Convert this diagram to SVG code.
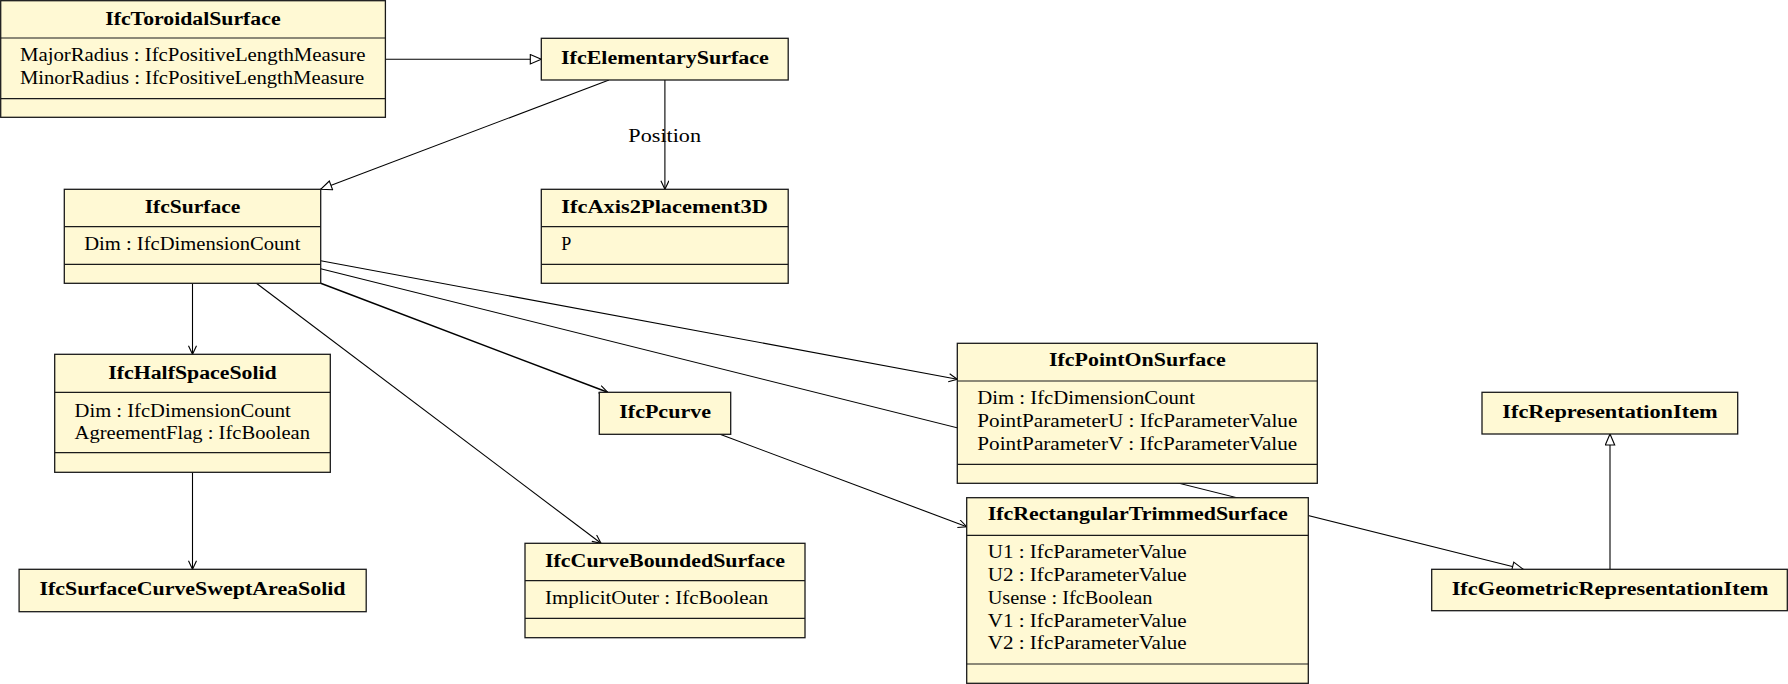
<svg xmlns="http://www.w3.org/2000/svg" width="1788" height="684" viewBox="0 0 1788 684">
  <style>
    .box { fill: #fff9d4; stroke: #1a1a1a; stroke-width: 1.3; }
    .div { stroke: #1a1a1a; stroke-width: 1.2; }
    .t { font-family: "Liberation Serif", "DejaVu Serif", serif; font-size: 18px; font-weight: bold; fill: #000; text-anchor: middle; }
    .a { font-family: "Liberation Serif", "DejaVu Serif", serif; font-size: 18px; fill: #000; }
    .lbl { font-family: "Liberation Serif", "DejaVu Serif", serif; font-size: 18px; fill: #000; text-anchor: middle; }
    .edge { fill: none; stroke: #000; stroke-width: 1.1; }
    .assoc { marker-end: url(#open); }
    .gen { marker-end: url(#tri); }
  </style>
  <defs>
    <marker id="open" markerUnits="userSpaceOnUse" markerWidth="10" markerHeight="10" refX="9" refY="4.5" orient="auto">
      <path d="M0.5,0.5 L9,4.5 L0.5,8.5" fill="none" stroke="#000" stroke-width="1.1"/>
    </marker>
    <marker id="tri" markerUnits="userSpaceOnUse" markerWidth="14" markerHeight="12" refX="12" refY="5.5" orient="auto">
      <path d="M1,0.8 L12,5.5 L1,10.2 Z" fill="#fff" stroke="#000" stroke-width="1.1"/>
    </marker>
  </defs>

  <!-- relations -->
  <g id="connectors">
    <line class="edge gen" x1="385.4" y1="59.3" x2="541.3" y2="59.3"/>
    <line class="edge gen" x1="609" y1="80" x2="320.7" y2="189.3"/>
    <line class="edge assoc" x1="664.9" y1="80" x2="664.9" y2="189.3"/>
    <text class="lbl" x="664.7" y="141.7" textLength="72.7" lengthAdjust="spacingAndGlyphs">Position</text>
    <line class="edge assoc" x1="192.5" y1="283.3" x2="192.5" y2="354.3"/>
    <line class="edge assoc" x1="192.5" y1="472.3" x2="192.5" y2="569.3"/>
    <line class="edge assoc" x1="256.4" y1="283.3" x2="601" y2="543.3"/>
    <line class="edge assoc" x1="320.7" y1="283.3" x2="607.7" y2="392.3" style="stroke-width:1.5"/>
    <line class="edge assoc" x1="320.7" y1="260.7" x2="957.3" y2="379.3"/>
    <line class="edge gen" x1="320.7" y1="268.7" x2="1523.3" y2="569.3"/>
    <line class="edge assoc" x1="720" y1="434.3" x2="966.7" y2="526.7"/>
    <line class="edge gen" x1="1610" y1="569.3" x2="1610" y2="434"/>
  </g>

  <g id="IfcToroidalSurface">
    <rect class="box" x="0.7" y="0.7" width="384.7" height="116.6"/>
    <line class="div" x1="0.7" y1="38" x2="385.4" y2="38"/>
    <line class="div" x1="0.7" y1="98.7" x2="385.4" y2="98.7"/>
    <text class="t" x="192.9" y="24.5" textLength="175.3" lengthAdjust="spacingAndGlyphs">IfcToroidalSurface</text>
    <text class="a" x="19.9" y="61.3" textLength="345.6" lengthAdjust="spacingAndGlyphs">MajorRadius : IfcPositiveLengthMeasure</text>
    <text class="a" x="19.9" y="84.3" textLength="344.4" lengthAdjust="spacingAndGlyphs">MinorRadius : IfcPositiveLengthMeasure</text>
  </g>

  <g id="IfcElementarySurface">
    <rect class="box" x="541.3" y="38.3" width="246.9" height="41.7"/>
    <text class="t" x="664.9" y="63.6" textLength="207.8" lengthAdjust="spacingAndGlyphs">IfcElementarySurface</text>
  </g>

  <g id="IfcSurface">
    <rect class="box" x="64.3" y="189.3" width="256.4" height="94"/>
    <line class="div" x1="64.3" y1="226.7" x2="320.7" y2="226.7"/>
    <line class="div" x1="64.3" y1="264.3" x2="320.7" y2="264.3"/>
    <text class="t" x="192.5" y="213" textLength="95.7" lengthAdjust="spacingAndGlyphs">IfcSurface</text>
    <text class="a" x="84.2" y="250.2" textLength="216.2" lengthAdjust="spacingAndGlyphs">Dim : IfcDimensionCount</text>
  </g>

  <g id="IfcAxis2Placement3D">
    <rect class="box" x="541.3" y="189.3" width="246.9" height="94"/>
    <line class="div" x1="541.3" y1="226.7" x2="788.2" y2="226.7"/>
    <line class="div" x1="541.3" y1="264.3" x2="788.2" y2="264.3"/>
    <text class="t" x="664.6" y="213" textLength="206.7" lengthAdjust="spacingAndGlyphs">IfcAxis2Placement3D</text>
    <text class="a" x="561.2" y="250.2">P</text>
  </g>

  <g id="IfcHalfSpaceSolid">
    <rect class="box" x="54.7" y="354.3" width="275.6" height="118"/>
    <line class="div" x1="54.7" y1="392.3" x2="330.3" y2="392.3"/>
    <line class="div" x1="54.7" y1="452.7" x2="330.3" y2="452.7"/>
    <text class="t" x="192.5" y="378.5" textLength="168.4" lengthAdjust="spacingAndGlyphs">IfcHalfSpaceSolid</text>
    <text class="a" x="74.6" y="416.7" textLength="216.2" lengthAdjust="spacingAndGlyphs">Dim : IfcDimensionCount</text>
    <text class="a" x="74.6" y="439.4" textLength="235.4" lengthAdjust="spacingAndGlyphs">AgreementFlag : IfcBoolean</text>
  </g>

  <g id="IfcSurfaceCurveSweptAreaSolid">
    <rect class="box" x="19.1" y="569.3" width="347.1" height="42.4"/>
    <text class="t" x="192.5" y="595" textLength="306.1" lengthAdjust="spacingAndGlyphs">IfcSurfaceCurveSweptAreaSolid</text>
  </g>

  <g id="IfcPcurve">
    <rect class="box" x="599.3" y="392.3" width="131.4" height="42"/>
    <text class="t" x="665.1" y="417.8" textLength="91.7" lengthAdjust="spacingAndGlyphs">IfcPcurve</text>
  </g>

  <g id="IfcCurveBoundedSurface">
    <rect class="box" x="525" y="543.3" width="280" height="94.4"/>
    <line class="div" x1="525" y1="580.7" x2="805" y2="580.7"/>
    <line class="div" x1="525" y1="618.3" x2="805" y2="618.3"/>
    <text class="t" x="665" y="567" textLength="240" lengthAdjust="spacingAndGlyphs">IfcCurveBoundedSurface</text>
    <text class="a" x="545" y="604.2" textLength="223.3" lengthAdjust="spacingAndGlyphs">ImplicitOuter : IfcBoolean</text>
  </g>

  <g id="IfcPointOnSurface">
    <rect class="box" x="957.3" y="343.3" width="360" height="140"/>
    <line class="div" x1="957.3" y1="381" x2="1317.3" y2="381"/>
    <line class="div" x1="957.3" y1="464.3" x2="1317.3" y2="464.3"/>
    <text class="t" x="1137.3" y="366.3" textLength="176.7" lengthAdjust="spacingAndGlyphs">IfcPointOnSurface</text>
    <text class="a" x="977.3" y="404.2" textLength="217.7" lengthAdjust="spacingAndGlyphs">Dim : IfcDimensionCount</text>
    <text class="a" x="977.3" y="426.9" textLength="320" lengthAdjust="spacingAndGlyphs">PointParameterU : IfcParameterValue</text>
    <text class="a" x="977.3" y="449.6" textLength="320" lengthAdjust="spacingAndGlyphs">PointParameterV : IfcParameterValue</text>
  </g>

  <g id="IfcRectangularTrimmedSurface">
    <rect class="box" x="966.7" y="497.7" width="341.6" height="185.6"/>
    <line class="div" x1="966.7" y1="535.3" x2="1308.3" y2="535.3"/>
    <line class="div" x1="966.7" y1="664" x2="1308.3" y2="664"/>
    <text class="t" x="1137.7" y="520.3" textLength="300" lengthAdjust="spacingAndGlyphs">IfcRectangularTrimmedSurface</text>
    <text class="a" x="987.7" y="558.4" textLength="199" lengthAdjust="spacingAndGlyphs">U1 : IfcParameterValue</text>
    <text class="a" x="987.7" y="581.1" textLength="199" lengthAdjust="spacingAndGlyphs">U2 : IfcParameterValue</text>
    <text class="a" x="987.7" y="603.8" textLength="164.7" lengthAdjust="spacingAndGlyphs">Usense : IfcBoolean</text>
    <text class="a" x="987.7" y="626.6" textLength="199" lengthAdjust="spacingAndGlyphs">V1 : IfcParameterValue</text>
    <text class="a" x="987.7" y="649.3" textLength="199" lengthAdjust="spacingAndGlyphs">V2 : IfcParameterValue</text>
  </g>

  <g id="IfcRepresentationItem">
    <rect class="box" x="1482" y="392.3" width="255.7" height="41.7"/>
    <text class="t" x="1610" y="417.5" textLength="215.3" lengthAdjust="spacingAndGlyphs">IfcRepresentationItem</text>
  </g>

  <g id="IfcGeometricRepresentationItem">
    <rect class="box" x="1431.7" y="569.3" width="355.6" height="41.4"/>
    <text class="t" x="1610" y="595" textLength="316.7" lengthAdjust="spacingAndGlyphs">IfcGeometricRepresentationItem</text>
  </g>
</svg>
